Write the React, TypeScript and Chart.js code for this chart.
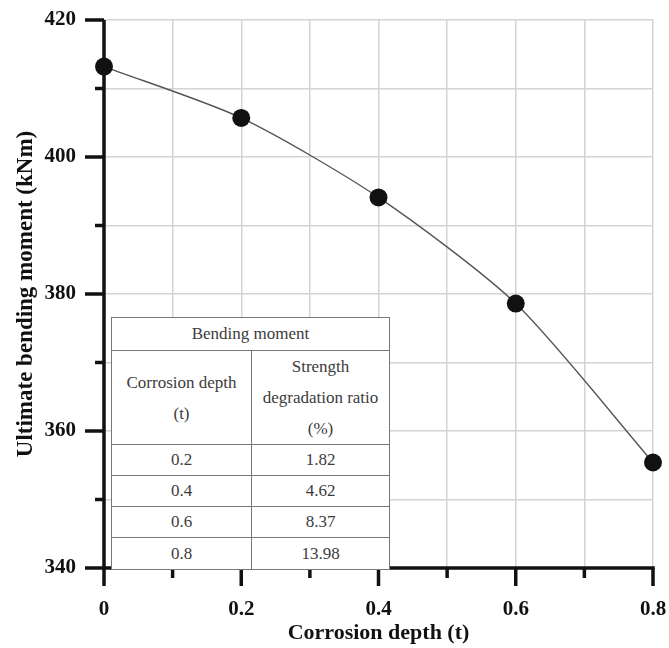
import React, { useEffect, useRef } from 'react';
import { Chart, registerables } from 'chart.js';

Chart.register(...registerables);

// ---- data ----
const depths = [0, 0.2, 0.4, 0.6, 0.8];
const moments = [413.2, 405.7, 394.1, 378.6, 355.4];
const xTickLabels = ['0', '0.2', '0.4', '0.6', '0.8'];
const yTickLabels = ['340', '360', '380', '400', '420'];
const xTitle = 'Corrosion depth (t)';
const yTitle = 'Ultimate bending moment (kNm)';
const tableTitle = 'Bending moment';
const tableDepthHeader = ['Corrosion depth', '(t)'];
const tableRatioHeader = ['Strength', 'degradation ratio', '(%)'];
const tableDepths = ['0.2', '0.4', '0.6', '0.8'];
const tableRatios = ['1.82', '4.62', '8.37', '13.98'];

const SERIF = "'Liberation Serif', 'Times New Roman', serif";

const axisPlugin = {
  id: 'customAxes',
  beforeDatasetsDraw(chart: any) {
    const { ctx, chartArea, scales } = chart;
    const x = scales.x;
    const y = scales.y;
    ctx.save();
    ctx.strokeStyle = '#111';
    ctx.lineWidth = 3.5;
    ctx.lineCap = 'butt';
    // axis lines
    ctx.beginPath();
    ctx.moveTo(chartArea.left - 1.75, chartArea.bottom);
    ctx.lineTo(chartArea.right + 1.75, chartArea.bottom);
    ctx.moveTo(chartArea.left, chartArea.bottom);
    ctx.lineTo(chartArea.left, chartArea.top);
    ctx.stroke();
    // x ticks
    x.ticks.forEach((t: any, i: number) => {
      const px = x.getPixelForValue(t.value);
      const len = i % 2 === 0 ? 18 : 10;
      ctx.beginPath();
      ctx.moveTo(px, chartArea.bottom);
      ctx.lineTo(px, chartArea.bottom + len);
      ctx.stroke();
    });
    // y ticks
    y.ticks.forEach((t: any, i: number) => {
      const py = y.getPixelForValue(t.value);
      const len = i % 2 === 0 ? 19 : 9;
      ctx.beginPath();
      ctx.moveTo(chartArea.left, py);
      ctx.lineTo(chartArea.left - len, py);
      ctx.stroke();
    });
    ctx.restore();
  },
};

const zeroPadding = (s: any) => {
  s.paddingTop = 0;
  s.paddingBottom = 0;
  s.paddingLeft = 0;
  s.paddingRight = 0;
};

function ChartCanvas() {
  const ref = useRef<HTMLCanvasElement>(null);
  useEffect(() => {
    const canvas = ref.current;
    if (!canvas) return;
    const chart = new Chart(canvas, {
      type: 'line',
      data: {
        datasets: [
          {
            data: depths.map((d, i) => ({ x: d, y: moments[i] })),
            borderColor: '#555',
            borderWidth: 1.4,
            pointRadius: 9,
            pointBackgroundColor: '#111',
            pointBorderColor: '#111',
            pointBorderWidth: 0,
            tension: 0.25,
            fill: false,
            clip: false,
          },
        ],
      },
      options: {
        animation: false,
        responsive: false,
        devicePixelRatio: 1,
        layout: { padding: { top: 20, right: 16, left: 0, bottom: 0 } },
        plugins: {
          legend: { display: false },
          tooltip: { enabled: false },
        },
        scales: {
          x: {
            type: 'linear',
            min: 0,
            max: 0.8,
            afterFit: (s: any) => {
              s.height = 80;
              zeroPadding(s);
            },
            ticks: {
              stepSize: 0.1,
              autoSkip: false,
              maxRotation: 0,
              padding: 29,
              color: '#111',
              font: { family: SERIF, size: 21, weight: 'bold' },
              callback: (_v: any, i: number) => (i % 2 === 0 ? xTickLabels[i / 2] : ''),
            },
            grid: { color: '#d4d4d4', lineWidth: 1.5, drawTicks: false },
            border: { display: false },
            title: {
              display: true,
              text: xTitle,
              color: '#111',
              font: { family: SERIF, size: 22, weight: 'bold' },
              padding: { top: 0, bottom: 1 },
            },
          },
          y: {
            type: 'linear',
            min: 340,
            max: 420,
            afterFit: (s: any) => {
              s.width = 104;
              zeroPadding(s);
            },
            ticks: {
              stepSize: 10,
              autoSkip: false,
              padding: 28,
              color: '#111',
              font: { family: SERIF, size: 21, weight: 'bold' },
              callback: (_v: any, i: number) => (i % 2 === 0 ? yTickLabels[i / 2] : ''),
            },
            grid: { color: '#d4d4d4', lineWidth: 1.5, drawTicks: false },
            border: { display: false },
            title: {
              display: true,
              text: yTitle,
              color: '#111',
              font: { family: SERIF, size: 23, weight: 'bold' },
              padding: { top: 12, bottom: 0 },
            },
          },
        },
      } as any,
      plugins: [axisPlugin],
    });
    return () => chart.destroy();
  }, []);
  return <canvas ref={ref} width={669} height={648} style={{ display: 'block' }} />;
}

const cell: React.CSSProperties = {
  border: '1.5px solid #777',
  padding: 0,
  textAlign: 'center',
  verticalAlign: 'middle',
};

export default function App() {
  return (
    <div style={{ position: 'absolute', left: 0, top: 0, width: 669, height: 648, background: '#fff' }}>
      <ChartCanvas />
      <table
        style={{
          position: 'absolute',
          left: 111,
          top: 317,
          width: 278,
          borderCollapse: 'collapse',
          tableLayout: 'fixed',
          background: '#fff',
          fontFamily: SERIF,
          fontSize: 17,
          color: '#3c3c3c',
        }}
      >
        <colgroup>
          <col style={{ width: 140 }} />
          <col style={{ width: 138 }} />
        </colgroup>
        <tbody>
          <tr style={{ height: 33 }}>
            <td colSpan={2} style={cell}>
              {tableTitle}
            </td>
          </tr>
          <tr style={{ height: 90 }}>
            <td style={{ ...cell, lineHeight: '31px' }}>
              {tableDepthHeader.map((s, i) => (
                <div key={i}>{s}</div>
              ))}
            </td>
            <td style={{ ...cell, lineHeight: '31px' }}>
              {tableRatioHeader.map((s, i) => (
                <div key={i}>{s}</div>
              ))}
            </td>
          </tr>
          {tableDepths.map((d, i) => (
            <tr key={d} style={{ height: i === tableDepths.length - 1 ? 32 : 31 }}>
              <td style={cell}>{d}</td>
              <td style={cell}>{tableRatios[i]}</td>
            </tr>
          ))}
        </tbody>
      </table>
    </div>
  );
}
